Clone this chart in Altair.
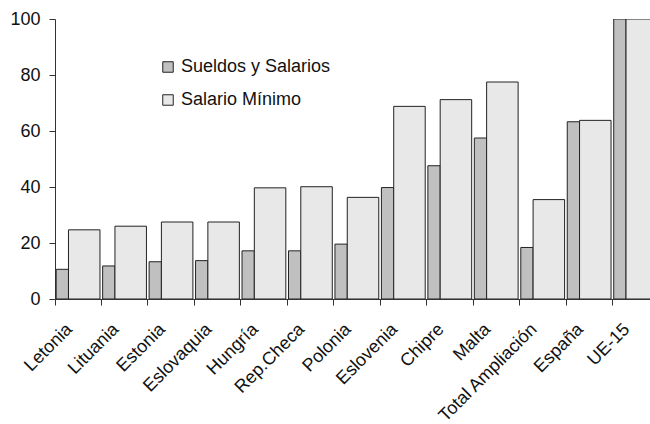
import altair as alt
import pandas as pd

# Índices (UE-15 = 100)
paises = ["Letonia", "Lituania", "Estonia", "Eslovaquia", "Hungría", "Rep.Checa",
          "Polonia", "Eslovenia", "Chipre", "Malta", "Total Ampliación", "España", "UE-15"]
sueldos = [10.6, 11.8, 13.3, 13.7, 17.2, 17.2, 19.6, 39.8, 47.6, 57.5, 18.4, 63.3, 100.0]
minimo = [24.7, 26.0, 27.5, 27.5, 39.7, 40.1, 36.3, 68.8, 71.2, 77.5, 35.5, 63.8, 100.0]
series = ["Sueldos y Salarios", "Salario Mínimo"]
colores = ["#c0c0c0", "#e8e8e8"]

df = pd.DataFrame({
    "pais": paises * 2,
    "serie": [series[0]] * len(paises) + [series[1]] * len(paises),
    "valor": sueldos + minimo,
})

FONT = "Liberation Sans"

x_enc = alt.X(
    "pais:N", sort=paises, title=None,
    scale=alt.Scale(paddingInner=0, paddingOuter=0, range=[0, 604]),
    axis=alt.Axis(
        bandPosition=0, labelAngle=-45, labelAlign="right", labelBaseline="top",
        labelFont=FONT, labelFontSize=18, labelColor="#111", labelOverlap=False,
        labelPadding=15, labelOffset=-15, tickSize=6, tickColor="#333",
        domainColor="#333", labelLimit=300,
    ),
)
y_enc = alt.Y(
    "valor:Q", title=None,
    scale=alt.Scale(domain=[0, 100], nice=False),
    axis=alt.Axis(
        values=[0, 20, 40, 60, 80, 100], grid=False, tickSize=6, tickColor="#333",
        domainColor="#333", labelFont=FONT, labelFontSize=18, labelColor="#111",
        labelPadding=9,
    ),
)
color_enc = alt.Color(
    "serie:N", title=None,
    scale=alt.Scale(domain=series, range=colores),
    legend=alt.Legend(
        orient="none", legendX=104, legendY=39, symbolType="square", symbolSize=110,
        symbolStrokeColor="#222", symbolStrokeWidth=1, labelFont=FONT,
        labelFontSize=18, labelColor="#111", rowPadding=15, labelOffset=4,
    ),
)

base = alt.Chart(df)

sueldos_bars = base.transform_filter(alt.datum.serie == series[0]).mark_bar(
    width=12.3, xOffset=-15.9, stroke="#222", strokeWidth=1, clip=True
).encode(x=x_enc, y=y_enc, color=color_enc)

minimo_bars = base.transform_filter(alt.datum.serie == series[1]).mark_bar(
    width=31.5, xOffset=6.0, stroke="#222", strokeWidth=1, clip=True
).encode(x=x_enc, y=y_enc, color=color_enc)

chart = alt.layer(sueldos_bars, minimo_bars).properties(
    width=595, height=280,
    autosize=alt.AutoSizeParams(type="none"),
    padding={"left": 55, "top": 19, "right": 0, "bottom": 125},
    background="white",
).configure_view(stroke=None)

chart.save("out.html", embed_options={"renderer": "svg", "actions": False})
